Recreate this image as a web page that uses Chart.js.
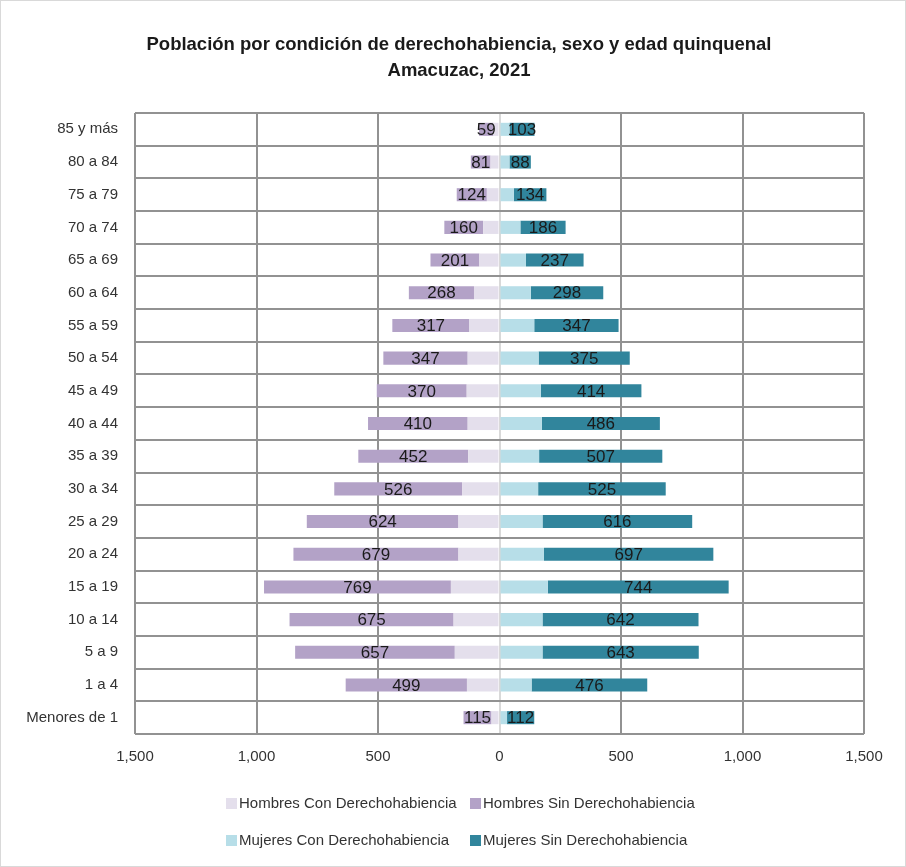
<!DOCTYPE html>
<html lang="es">
<head>
<meta charset="utf-8">
<title>Población por condición de derechohabiencia - Amacuzac 2021</title>
<script src="https://cdn.jsdelivr.net/npm/chart.js@4.4.1/dist/chart.umd.min.js"></script>
<style>
  html, body { margin: 0; padding: 0; background: #fff; }
  #wrap { width: 906px; height: 867px; position: relative; box-sizing: border-box; border: 1px solid #d9d9d9; }
</style>
</head>
<body>
<div id="wrap"><canvas id="grafico"></canvas></div>
<script>
// grupos de edad (de arriba hacia abajo)
const edades = ['85 y más', '80 a 84', '75 a 79', '70 a 74', '65 a 69', '60 a 64', '55 a 59',
  '50 a 54', '45 a 49', '40 a 44', '35 a 39', '30 a 34', '25 a 29', '20 a 24', '15 a 19',
  '10 a 14', '5 a 9', '1 a 4', 'Menores de 1'];

// valores estimados de la imagen
const hombresCon = [25, 37, 52, 67, 83, 105, 124, 131, 135, 131, 129, 154, 169, 169, 200, 189, 184, 134, 33];
const hombresSin = [59, 81, 124, 160, 201, 268, 317, 347, 370, 410, 452, 526, 624, 679, 769, 675, 657, 499, 115];
const mujeresCon = [41, 41, 59, 86, 109, 129, 143, 161, 170, 174, 163, 159, 177, 183, 199, 177, 177, 132, 31];
const mujeresSin = [103, 88, 134, 186, 237, 298, 347, 375, 414, 486, 507, 525, 616, 697, 744, 642, 643, 476, 112];

const ticksX = [-1500, -1000, -500, 0, 500, 1000, 1500];

const titulo = ['Población por condición de derechohabiencia, sexo y edad quinquenal', 'Amacuzac, 2021'];

const fuenteAngosta = "'Liberation Sans Narrow', 'Arial Narrow', 'Liberation Sans', sans-serif";
const graficoCanvas = document.getElementById('grafico');

const negativos = (arr) => arr.map((v) => -v);

const data = {
  labels: edades,
  datasets: [
    { label: 'Hombres Con Derechohabiencia', data: negativos(hombresCon), backgroundColor: '#e4dfec', etiquetas: false },
    { label: 'Hombres Sin Derechohabiencia', data: negativos(hombresSin), backgroundColor: '#b3a2c7', etiquetas: true },
    { label: 'Mujeres Con Derechohabiencia', data: mujeresCon, backgroundColor: '#b7dee8', etiquetas: false },
    { label: 'Mujeres Sin Derechohabiencia', data: mujeresSin, backgroundColor: '#31859c', etiquetas: true },
  ],
};

// etiquetas de datos al centro de cada barra "Sin"
const pluginEtiquetas = {
  id: 'etiquetas',
  afterDatasetsDraw(chart) {
    const ctx = chart.ctx;
    ctx.save();
    ctx.font = '17px ' + fuenteAngosta;
    ctx.fillStyle = '#1a1a1a';
    ctx.textAlign = 'center';
    ctx.textBaseline = 'middle';
    chart.data.datasets.forEach((ds, i) => {
      if (!ds.etiquetas) return;
      const meta = chart.getDatasetMeta(i);
      meta.data.forEach((bar, j) => {
        const cx = (bar.x + bar.base) / 2;
        ctx.fillText(Math.abs(ds.data[j]).toString(), cx, bar.y + 1);
      });
    });
    ctx.restore();
  },
};

// titulo y leyenda en dos filas
const pluginTextos = {
  id: 'textos',
  afterDraw(chart) {
    const ctx = chart.ctx;
    const area = chart.chartArea;
    ctx.save();
    ctx.fillStyle = '#1a1a1a';
    ctx.textAlign = 'center';
    ctx.textBaseline = 'middle';
    ctx.font = "bold 18.5px 'Liberation Sans', Arial, sans-serif";
    titulo.forEach((linea, k) => {
      ctx.fillText(linea, 458, 44 + k * 26);
    });

    const cols = [225, 469];
    const filas = [area.bottom + 70, area.bottom + 107];
    ctx.font = '15px ' + fuenteAngosta;
    ctx.textAlign = 'left';
    chart.data.datasets.forEach((ds, i) => {
      const x = cols[i % 2];
      const y = filas[Math.floor(i / 2)];
      ctx.fillStyle = ds.backgroundColor;
      ctx.fillRect(x, y - 6, 11, 11);
      ctx.fillStyle = '#333';
      ctx.fillText(ds.label, x + 13, y);
    });
    ctx.restore();
  },
};

new Chart(graficoCanvas, {
  type: 'bar',
  data: data,
  plugins: [pluginEtiquetas, pluginTextos],
  options: {
    indexAxis: 'y',
    responsive: true,
    maintainAspectRatio: false,
    animation: false,
    layout: { padding: { left: 10, right: 41, top: 112, bottom: 97 } },
    datasets: { bar: { barPercentage: 0.4, categoryPercentage: 1.0 } },
    plugins: {
      legend: { display: false },
      tooltip: { enabled: false },
      title: { display: false },
    },
    scales: {
      x: {
        stacked: true,
        min: -1500,
        max: 1500,
        afterBuildTicks: (scale) => { scale.ticks = ticksX.map((v) => ({ value: v })); },
        afterFit: (scale) => { scale.height = 35; },
        grid: {
          color: (c) => (c.tick && c.tick.value === 0 ? '#d9d9d9' : '#929292'),
          lineWidth: 2,
          drawTicks: false,
        },
        border: { display: false },
        ticks: {
          padding: 14,
          color: '#333',
          font: { family: fuenteAngosta, size: 15 },
          callback: (v) => Math.abs(v).toLocaleString('en-US'),
        },
      },
      y: {
        stacked: true,
        afterFit: (scale) => { scale.width = 124; },
        grid: { color: '#929292', lineWidth: 2, drawTicks: false, offset: true },
        border: { display: false },
        ticks: {
          padding: 17,
          color: '#333',
          font: { family: fuenteAngosta, size: 15 },
        },
      },
    },
  },
});
</script>
</body>
</html>
